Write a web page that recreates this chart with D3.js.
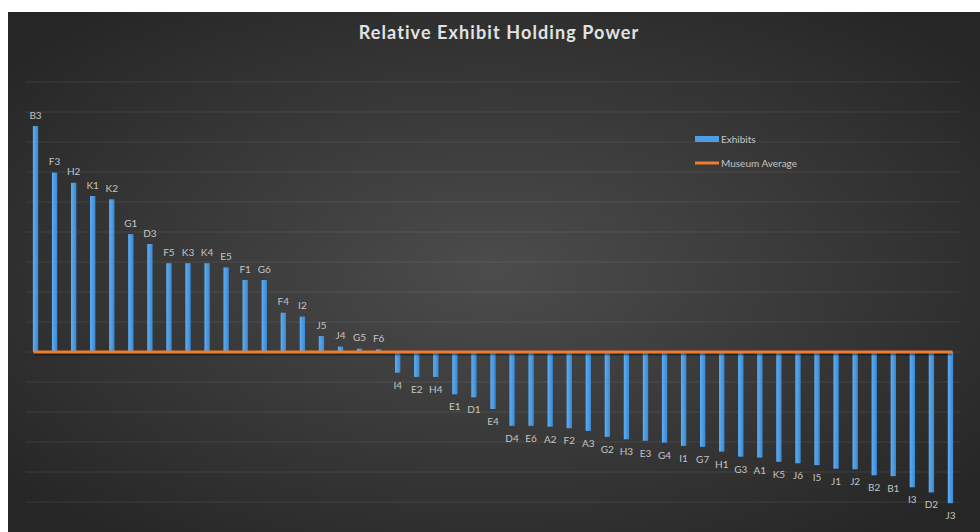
<!DOCTYPE html>
<html lang="en">
<head>
  <meta charset="UTF-8">
  <title>Relative Exhibit Holding Power</title>
  <style>
    body { margin: 0; background: #fff; }
  </style>
</head>
<body>
  <svg id="svg" width="980" height="532"></svg>
  <script src="https://d3js.org/d3.v7.min.js"></script>
  <script>
    const exhibits = ['B3', 'F3', 'H2', 'K1', 'K2', 'G1', 'D3', 'F5', 'K3', 'K4', 'E5', 'F1', 'G6', 'F4', 'I2', 'J5', 'J4', 'G5', 'F6',
      'I4', 'E2', 'H4', 'E1', 'D1', 'E4', 'D4', 'E6', 'A2', 'F2', 'A3', 'G2', 'H3', 'E3', 'G4', 'I1', 'G7', 'H1', 'G3', 'A1',
      'K5', 'J6', 'I5', 'J1', 'J2', 'B2', 'B1', 'I3', 'D2', 'J3']
    const holding = [7.53, 5.98, 5.64, 5.2, 5.09, 3.93, 3.6, 2.96, 2.96, 2.96, 2.82, 2.4, 2.4, 1.31, 1.18, 0.53, 0.18, 0.11, 0.09,
      -0.69, -0.83, -0.83, -1.41, -1.51, -1.9, -2.46, -2.46, -2.49, -2.54, -2.63, -2.83, -2.91, -2.96, -3.02, -3.13, -3.16, -3.32, -3.49, -3.52,
      -3.66, -3.71, -3.77, -3.89, -3.91, -4.11, -4.14, -4.51, -4.68, -5.04]
    const museumAverage = 0
    const gridTicks = d3.range(-5, 10, 1)
    const legendItems = ['Exhibits', 'Museum Average']

    const data = exhibits.map((name, i) => ({ name, v: holding[i] }))
    const svg = d3.select('#svg')
    const defs = svg.append('defs')

    // chart background
    const bg = defs.append('radialGradient').attr('id', 'bg')
      .attr('cx', '50%').attr('cy', '50%').attr('r', '65%')
    bg.append('stop').attr('offset', '0%').attr('stop-color', '#4c4c4c')
    bg.append('stop').attr('offset', '100%').attr('stop-color', '#262626')

    const barGrad = defs.append('linearGradient').attr('id', 'bar')
      .attr('x1', '0%').attr('x2', '100%')
    barGrad.append('stop').attr('offset', '0%').attr('stop-color', '#5eaef2')
    barGrad.append('stop').attr('offset', '100%').attr('stop-color', '#3b88d2')

    svg.append('rect')
      .attr('x', 8).attr('y', 12).attr('width', 972).attr('height', 520)
      .attr('fill', 'url(#bg)')

    const x = d3.scaleBand()
      .domain(exhibits)
      .range([26, 960])
      .paddingInner(0.72)
      .paddingOuter(0.36)

    const y = d3.scaleLinear().domain([-5, 9]).range([502, 82])

    // gridlines
    svg.append('g')
      .selectAll('line')
      .data(gridTicks)
      .enter()
      .append('line')
      .attr('x1', 26).attr('x2', 960)
      .attr('y1', d => y(d)).attr('y2', d => y(d))
      .attr('stroke', '#ffffff')
      .attr('stroke-opacity', 0.09)
      .attr('stroke-width', 1)

    // bars
    svg.append('g')
      .selectAll('rect')
      .data(data)
      .enter()
      .append('rect')
      .attr('x', d => x(d.name))
      .attr('width', x.bandwidth())
      .attr('y', d => y(Math.max(0, d.v)))
      .attr('height', d => Math.abs(y(d.v) - y(0)))
      .attr('fill', 'url(#bar)')

    // bar labels
    svg.append('g')
      .selectAll('text')
      .data(data)
      .enter()
      .append('text')
      .attr('x', d => x(d.name) + x.bandwidth() / 2)
      .attr('y', d => d.v >= 0 ? y(d.v) - 7.5 : y(d.v) + 16)
      .attr('text-anchor', 'middle')
      .attr('font-family', 'Lato, "Open Sans", sans-serif')
      .attr('font-size', 10)
      .attr('fill', '#c4c4c4')
      .text(d => d.name)

    // museum average line
    const first = x(exhibits[0]) + x.bandwidth() / 2
    const last = x(exhibits[exhibits.length - 1]) + x.bandwidth() / 2
    svg.append('line')
      .attr('x1', first - 1).attr('x2', last + 1)
      .attr('y1', y(museumAverage) + 2).attr('y2', y(museumAverage) + 2)
      .attr('stroke', '#000').attr('stroke-opacity', 0.35).attr('stroke-width', 3)
    svg.append('line')
      .attr('x1', first - 2).attr('x2', last + 2)
      .attr('y1', y(museumAverage)).attr('y2', y(museumAverage))
      .attr('stroke', '#ed7d31').attr('stroke-width', 3.2)

    // title
    svg.append('text')
      .attr('x', 499).attr('y', 39)
      .attr('text-anchor', 'middle')
      .attr('font-family', 'Lato, "Open Sans", sans-serif')
      .attr('font-weight', 'bold')
      .attr('font-size', 18)
      .attr('letter-spacing', 1.1)
      .attr('fill', '#e2e2e2')
      .text('Relative Exhibit Holding Power')

    // legend
    const legend = svg.append('g')
      .selectAll('g')
      .data(legendItems)
      .enter()
      .append('g')
      .attr('transform', (d, i) => `translate(695, ${139 + i * 24})`)
    legend.append('rect')
      .attr('x', 0).attr('y', d => d === 'Exhibits' ? -3 : -1.5)
      .attr('width', 24).attr('height', d => d === 'Exhibits' ? 6 : 3)
      .attr('fill', d => d === 'Exhibits' ? '#4c9de6' : '#ed7d31')
    legend.append('text')
      .attr('x', 26).attr('y', 3.5)
      .attr('font-family', 'Lato, "Open Sans", sans-serif')
      .attr('font-size', 10)
      .attr('fill', '#c4c4c4')
      .text(d => d)
  </script>
</body>
</html>
